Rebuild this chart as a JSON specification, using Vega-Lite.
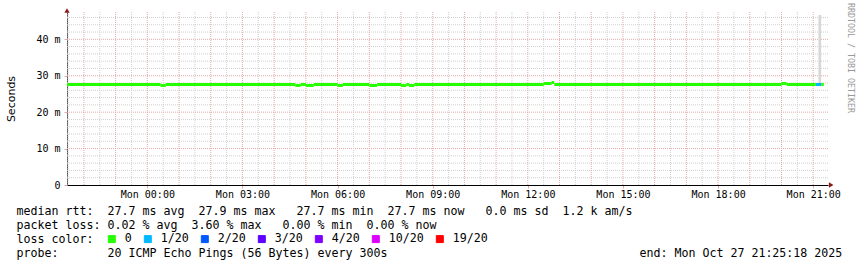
{
  "$schema": "https://vega.github.io/schema/vega-lite/v6.json",
  "width": 761,
  "height": 173,
  "autosize": {"type": "none"},
  "padding": {"left": 67, "top": 12, "right": 29, "bottom": 82},
  "background": "white",
  "config": {"view": {"stroke": null}},
  "title": {
    "text": "RRDTOOL / TOBI OETIKER",
    "orient": "right",
    "anchor": "start",
    "frame": "group",
    "offset": 0,
    "baseline": "middle",
    "dx": -9,
    "font": "DejaVu Sans Mono",
    "fontSize": 8.3,
    "fontWeight": "normal",
    "color": "#999999"
  },
  "datasets": {
    "ygrid": [
      {"v": 2, "kind": "minor"}, {"v": 4, "kind": "minor"}, {"v": 6, "kind": "minor"}, {"v": 8, "kind": "minor"}, {"v": 10, "kind": "major"},
      {"v": 12, "kind": "minor"}, {"v": 14, "kind": "minor"}, {"v": 16, "kind": "minor"}, {"v": 18, "kind": "minor"}, {"v": 20, "kind": "major"},
      {"v": 22, "kind": "minor"}, {"v": 24, "kind": "minor"}, {"v": 26, "kind": "minor"}, {"v": 28, "kind": "minor"}, {"v": 30, "kind": "major"},
      {"v": 32, "kind": "minor"}, {"v": 34, "kind": "minor"}, {"v": 36, "kind": "minor"}, {"v": 38, "kind": "minor"}, {"v": 40, "kind": "major"},
      {"v": 42, "kind": "minor"}, {"v": 44, "kind": "minor"}, {"v": 46, "kind": "minor"}
    ],
    "xgrid": [
      {"t": "2025-10-26T21:30:00Z", "kind": "minor"}, {"t": "2025-10-26T22:00:00Z", "kind": "major"},
      {"t": "2025-10-26T22:30:00Z", "kind": "minor"}, {"t": "2025-10-26T23:00:00Z", "kind": "major"},
      {"t": "2025-10-26T23:30:00Z", "kind": "minor"}, {"t": "2025-10-27T00:00:00Z", "kind": "major"},
      {"t": "2025-10-27T00:30:00Z", "kind": "minor"}, {"t": "2025-10-27T01:00:00Z", "kind": "major"},
      {"t": "2025-10-27T01:30:00Z", "kind": "minor"}, {"t": "2025-10-27T02:00:00Z", "kind": "major"},
      {"t": "2025-10-27T02:30:00Z", "kind": "minor"}, {"t": "2025-10-27T03:00:00Z", "kind": "major"},
      {"t": "2025-10-27T03:30:00Z", "kind": "minor"}, {"t": "2025-10-27T04:00:00Z", "kind": "major"},
      {"t": "2025-10-27T04:30:00Z", "kind": "minor"}, {"t": "2025-10-27T05:00:00Z", "kind": "major"},
      {"t": "2025-10-27T05:30:00Z", "kind": "minor"}, {"t": "2025-10-27T06:00:00Z", "kind": "major"},
      {"t": "2025-10-27T06:30:00Z", "kind": "minor"}, {"t": "2025-10-27T07:00:00Z", "kind": "major"},
      {"t": "2025-10-27T07:30:00Z", "kind": "minor"}, {"t": "2025-10-27T08:00:00Z", "kind": "major"},
      {"t": "2025-10-27T08:30:00Z", "kind": "minor"}, {"t": "2025-10-27T09:00:00Z", "kind": "major"},
      {"t": "2025-10-27T09:30:00Z", "kind": "minor"}, {"t": "2025-10-27T10:00:00Z", "kind": "major"},
      {"t": "2025-10-27T10:30:00Z", "kind": "minor"}, {"t": "2025-10-27T11:00:00Z", "kind": "major"},
      {"t": "2025-10-27T11:30:00Z", "kind": "minor"}, {"t": "2025-10-27T12:00:00Z", "kind": "major"},
      {"t": "2025-10-27T12:30:00Z", "kind": "minor"}, {"t": "2025-10-27T13:00:00Z", "kind": "major"},
      {"t": "2025-10-27T13:30:00Z", "kind": "minor"}, {"t": "2025-10-27T14:00:00Z", "kind": "major"},
      {"t": "2025-10-27T14:30:00Z", "kind": "minor"}, {"t": "2025-10-27T15:00:00Z", "kind": "major"},
      {"t": "2025-10-27T15:30:00Z", "kind": "minor"}, {"t": "2025-10-27T16:00:00Z", "kind": "major"},
      {"t": "2025-10-27T16:30:00Z", "kind": "minor"}, {"t": "2025-10-27T17:00:00Z", "kind": "major"},
      {"t": "2025-10-27T17:30:00Z", "kind": "minor"}, {"t": "2025-10-27T18:00:00Z", "kind": "major"},
      {"t": "2025-10-27T18:30:00Z", "kind": "minor"}, {"t": "2025-10-27T19:00:00Z", "kind": "major"},
      {"t": "2025-10-27T19:30:00Z", "kind": "minor"}, {"t": "2025-10-27T20:00:00Z", "kind": "major"},
      {"t": "2025-10-27T20:30:00Z", "kind": "minor"}, {"t": "2025-10-27T21:00:00Z", "kind": "major"}
    ],
    "median": [
      {"t0": "2025-10-26T21:28:00Z", "t1": "2025-10-27T00:25:00Z", "rtt": 27.6, "loss": "0"},
      {"t0": "2025-10-27T00:25:00Z", "t1": "2025-10-27T00:35:00Z", "rtt": 27.33, "loss": "0"},
      {"t0": "2025-10-27T00:35:00Z", "t1": "2025-10-27T04:40:00Z", "rtt": 27.6, "loss": "0"},
      {"t0": "2025-10-27T04:40:00Z", "t1": "2025-10-27T04:50:00Z", "rtt": 27.33, "loss": "0"},
      {"t0": "2025-10-27T04:50:00Z", "t1": "2025-10-27T05:00:00Z", "rtt": 27.6, "loss": "0"},
      {"t0": "2025-10-27T05:00:00Z", "t1": "2025-10-27T05:15:00Z", "rtt": 27.33, "loss": "0"},
      {"t0": "2025-10-27T05:15:00Z", "t1": "2025-10-27T06:00:00Z", "rtt": 27.6, "loss": "0"},
      {"t0": "2025-10-27T06:00:00Z", "t1": "2025-10-27T06:10:00Z", "rtt": 27.33, "loss": "0"},
      {"t0": "2025-10-27T06:10:00Z", "t1": "2025-10-27T07:00:00Z", "rtt": 27.6, "loss": "0"},
      {"t0": "2025-10-27T07:00:00Z", "t1": "2025-10-27T07:15:00Z", "rtt": 27.33, "loss": "0"},
      {"t0": "2025-10-27T07:15:00Z", "t1": "2025-10-27T08:00:00Z", "rtt": 27.6, "loss": "0"},
      {"t0": "2025-10-27T08:00:00Z", "t1": "2025-10-27T08:10:00Z", "rtt": 27.33, "loss": "0"},
      {"t0": "2025-10-27T08:10:00Z", "t1": "2025-10-27T08:15:00Z", "rtt": 27.6, "loss": "0"},
      {"t0": "2025-10-27T08:15:00Z", "t1": "2025-10-27T08:25:00Z", "rtt": 27.33, "loss": "0"},
      {"t0": "2025-10-27T08:25:00Z", "t1": "2025-10-27T12:30:00Z", "rtt": 27.6, "loss": "0"},
      {"t0": "2025-10-27T12:30:00Z", "t1": "2025-10-27T12:45:00Z", "rtt": 27.87, "loss": "0"},
      {"t0": "2025-10-27T12:45:00Z", "t1": "2025-10-27T12:50:00Z", "rtt": 28.15, "loss": "0"},
      {"t0": "2025-10-27T12:50:00Z", "t1": "2025-10-27T20:00:00Z", "rtt": 27.6, "loss": "0"},
      {"t0": "2025-10-27T20:00:00Z", "t1": "2025-10-27T20:10:00Z", "rtt": 27.87, "loss": "0"},
      {"t0": "2025-10-27T20:10:00Z", "t1": "2025-10-27T21:05:00Z", "rtt": 27.6, "loss": "0"},
      {"t0": "2025-10-27T21:05:00Z", "t1": "2025-10-27T21:15:00Z", "rtt": 27.6, "loss": "1/20"},
      {"t0": "2025-10-27T21:15:00Z", "t1": "2025-10-27T21:20:00Z", "rtt": 27.6, "loss": "0"}
    ],
    "smoke": [
      {"t0": "2025-10-27T21:10:00Z", "t1": "2025-10-27T21:15:00Z", "lo": 27.6, "hi": 46.7}
    ]
  },
  "layer": [
    {
      "data": {"name": "ygrid"},
      "mark": {"type": "rule", "strokeWidth": 1, "strokeDash": [1, 1]},
      "encoding": {
        "y": {
          "field": "v",
          "type": "quantitative",
          "scale": {"domain": [0, 47.5], "nice": false, "zero": true},
          "axis": {
            "values": [0, 10, 20, 30, 40],
            "grid": false,
            "tickColor": "#e4a8a8",
            "tickSize": 3,
            "domainColor": "#555555",
            "labelExpr": "datum.value === 0 ? '0' : datum.value + ' m'",
            "labelFont": "DejaVu Sans Mono",
            "labelFontSize": 10,
            "labelColor": "#000000",
            "labelPadding": 4,
            "labelOverlap": false,
            "labelFlush": false,
            "title": "Seconds",
            "titleFont": "DejaVu Sans",
            "titleFontSize": 11,
            "titleFontWeight": "normal",
            "titleColor": "#000000",
            "titleAngle": -90,
            "titleAlign": "center",
            "titleBaseline": "middle",
            "titleX": -56,
            "titleY": 86.5
          }
        },
        "color": {"condition": {"test": "datum.kind === 'major'", "value": "#e4a8a8"}, "value": "#d0d0d0"}
      }
    },
    {
      "data": {"name": "xgrid"},
      "mark": {"type": "rule", "strokeWidth": 1, "strokeDash": [1, 1]},
      "encoding": {
        "x": {
          "field": "t",
          "type": "temporal",
          "scale": {"type": "utc", "nice": false, "domain": [1761514080000, 1761600480000]},
          "axis": {
            "values": [1761523200000, 1761534000000, 1761544800000, 1761555600000, 1761566400000, 1761577200000, 1761588000000, 1761598800000],
            "grid": false,
            "tickColor": "#e4a8a8",
            "tickSize": 3,
            "domainColor": "#000000",
            "labelExpr": "utcFormat(datum.value, '%a %H:%M')",
            "labelFont": "DejaVu Sans Mono",
            "labelFontSize": 10,
            "labelColor": "#000000",
            "labelPadding": 1,
            "labelOverlap": false,
            "labelFlush": false,
            "title": [
              "median rtt:\u00a0\u00a027.7 ms avg\u00a0\u00a027.9 ms max\u00a0\u00a0\u00a027.7 ms min\u00a0\u00a027.7 ms now\u00a0\u00a0\u00a00.0 ms sd\u00a0\u00a01.2 k am/s",
              "packet loss: 0.02 % avg\u00a0\u00a03.60 % max\u00a0\u00a0\u00a00.00 % min\u00a0\u00a00.00 % now",
              "loss color:",
              "probe:\u00a0\u00a0\u00a0\u00a0\u00a0\u00a0\u00a020 ICMP Echo Pings (56 Bytes) every 300s\u00a0\u00a0\u00a0\u00a0\u00a0\u00a0\u00a0\u00a0\u00a0\u00a0\u00a0\u00a0\u00a0\u00a0\u00a0\u00a0\u00a0\u00a0\u00a0\u00a0\u00a0\u00a0\u00a0\u00a0\u00a0\u00a0\u00a0\u00a0\u00a0\u00a0\u00a0\u00a0\u00a0\u00a0\u00a0\u00a0end: Mon Oct 27 21:25:18 2025"
            ],
            "titleFont": "DejaVu Sans Mono",
            "titleFontSize": 11.63,
            "titleFontWeight": "normal",
            "titleColor": "#000000",
            "titleAlign": "left",
            "titleBaseline": "alphabetic",
            "titleX": -51,
            "titleY": 29,
            "titleLineHeight": 14.33,
            "encode": {"title": {"update": {"lineHeight": {"value": 14.33}}}}
          }
        },
        "color": {"condition": {"test": "datum.kind === 'major'", "value": "#e4a8a8"}, "value": "#d0d0d0"}
      }
    },
    {
      "data": {"name": "smoke"},
      "mark": {"type": "rect", "color": "#d7d7d7"},
      "encoding": {
        "x": {"field": "t0", "type": "temporal"},
        "x2": {"field": "t1"},
        "y": {"field": "hi", "type": "quantitative"},
        "y2": {"field": "lo"}
      }
    },
    {
      "data": {"name": "median"},
      "mark": {"type": "rule", "strokeWidth": 3, "strokeCap": "butt"},
      "encoding": {
        "x": {"field": "t0", "type": "temporal"},
        "x2": {"field": "t1"},
        "y": {"field": "rtt", "type": "quantitative"},
        "color": {
          "field": "loss",
          "type": "nominal",
          "scale": {
            "domain": ["0", "1/20", "2/20", "3/20", "4/20", "10/20", "19/20"],
            "range": ["#26ff00", "#00b8ff", "#0059ff", "#5e00ff", "#7e00ff", "#dd00ff", "#ff0000"]
          },
          "legend": {
            "orient": "none",
            "legendX": 39,
            "legendY": 221,
            "direction": "horizontal",
            "columns": 7,
            "title": null,
            "symbolType": "square",
            "symbolSize": 49,
            "symbolStrokeColor": "#000000",
            "symbolStrokeWidth": 1,
            "labelFont": "DejaVu Sans Mono",
            "labelFontSize": 11.63,
            "labelColor": "#000000",
            "labelOffset": 7,
            "columnPadding": 10,
            "labelExpr": "datum.label === '10/20' ? '10/20\u00a0\u00a0\u00a0\u00a0' : datum.label",
            "encode": {
              "symbols": {
                "update": {
                  "fill": {"scale": "color", "field": "value"},
                  "stroke": {"value": "#000000"},
                  "fillOpacity": {"value": 1}
                }
              }
            }
          }
        }
      }
    },
    {
      "data": {"values": [{"arrow": "time"}]},
      "mark": {"type": "point", "shape": "triangle-right", "filled": true, "size": 28, "color": "#8b1a1a", "opacity": 1},
      "encoding": {
        "x": {"datum": 1761600840000, "type": "temporal"},
        "y": {"datum": 0, "type": "quantitative"}
      }
    },
    {
      "data": {"values": [{"arrow": "value"}]},
      "mark": {"type": "point", "shape": "triangle-up", "filled": true, "size": 28, "color": "#8b1a1a", "opacity": 1},
      "encoding": {
        "x": {"datum": 1761514080000, "type": "temporal"},
        "y": {"datum": 47.9, "type": "quantitative"}
      }
    }
  ]
}
